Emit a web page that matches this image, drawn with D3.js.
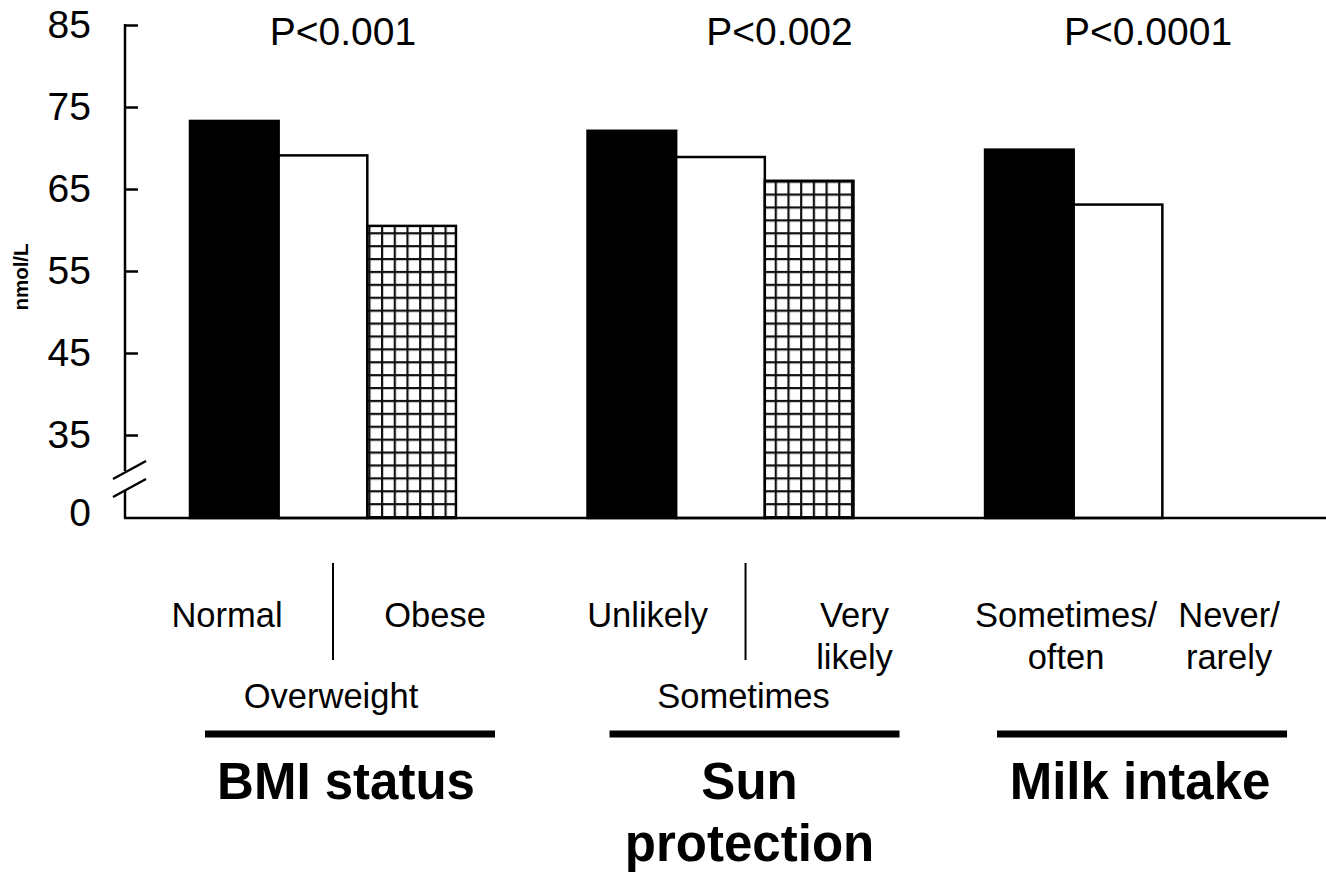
<!DOCTYPE HTML>
<html>
<head>
<meta charset="utf-8">
<title>nmol/L by group</title>
<script src="https://d3js.org/d3.v7.min.js"></script>
<style>
  body { margin: 0; background: #ffffff; }
  text { font-family: "Liberation Sans", Arial, sans-serif; fill: #000000; }
</style>
</head>

<body>
<script>

"use strict";

// data
const groups = ["BMI status", "Sun protection", "Milk intake"];
const groupTitles = [["BMI status"], ["Sun", "protection"], ["Milk intake"]];
const pValues = ["P<0.001", "P<0.002", "P<0.0001"];
const bmiValues = [73.3, 69.1, 60.5];
const sunValues = [72.1, 68.9, 66.0];
const milkValues = [69.8, 63.1];
const bmiLevels = [["Normal"], ["Overweight"], ["Obese"]];
const sunLevels = [["Unlikely"], ["Sometimes"], ["Very", "likely"]];
const milkLevels = [["Sometimes/", "often"], ["Never/", "rarely"]];
const yTicks = [0, 35, 45, 55, 65, 75, 85];
const yLabel = "nmol/L";

const values = [bmiValues, sunValues, milkValues];
const levels = [bmiLevels, sunLevels, milkLevels];

// label layout under each group (offsets from the group's left edge)
const labelLayout = [
  {levelX: [37, 141, 245], levelRow: [0, 2, 0], divider: 143, rule: [15, 305], title: 156, p: 153},
  {levelX: [60, 156, 267], levelRow: [0, 2, 0], divider: 158, rule: [22, 312], title: 162, p: 192},
  {levelX: [81, 244], levelRow: [0, 0], divider: null, rule: [12, 302], title: 155, p: 163}
];
const rowY = [627, 669, 708];

const width = 1326, height = 880;
const axisX = 125, baseY = 518;

const svg = d3.select("body").append("svg")
  .attr("width", width)
  .attr("height", height);

const defs = svg.append("defs");
const grid = defs.append("pattern")
  .attr("id", "grid")
  .attr("patternUnits", "userSpaceOnUse")
  .attr("width", 12.7)
  .attr("height", 12.9);
grid.append("rect").attr("width", 12.7).attr("height", 12.9).attr("fill", "#ffffff");
grid.append("path")
  .attr("d", "M0,1.1H12.7M1.1,0V12.9")
  .attr("stroke", "#111111")
  .attr("stroke-width", 2.2)
  .attr("fill", "none");

const y = d3.scaleLinear()
  .domain([0, 35, 85])
  .range([baseY, 435, 25]);

const xGroup = d3.scaleBand()
  .domain(groups)
  .range([190, 1251])
  .paddingInner(0.331)
  .paddingOuter(0);

const xBar = d3.scaleBand()
  .domain([0, 1, 2])
  .range([0, xGroup.bandwidth()])
  .padding(0);

const fills = ["#000000", "#ffffff", "url(#grid)"];

// bars
groups.forEach((g, gi) => {
  const gx = xGroup(g);
  svg.append("g").selectAll("rect")
    .data(values[gi])
    .enter()
    .append("rect")
    .attr("x", (d, i) => gx + xBar(i))
    .attr("y", (d) => y(d))
    .attr("width", xBar.bandwidth())
    .attr("height", (d) => baseY - y(d))
    .attr("fill", (d, i) => fills[i])
    .attr("stroke", "#000000")
    .attr("stroke-width", 2.5);
});

// y axis
const yAxis = d3.axisLeft(y)
  .tickValues(yTicks)
  .tickSizeInner(-13)
  .tickSizeOuter(0)
  .tickPadding(34)
  .tickFormat(d3.format("d"));

const ax = svg.append("g")
  .attr("transform", "translate(" + axisX + ",0)")
  .call(yAxis);
ax.select(".domain").remove();
ax.selectAll(".tick line")
  .attr("stroke", "#000000")
  .attr("stroke-width", 2.5)
  .filter((d) => d === 0).remove();
ax.selectAll(".tick text")
  .attr("font-size", 39)
  .attr("font-family", "'Liberation Sans', Arial, sans-serif")
  .filter((d) => d === 0).attr("dy", "0.18em");

// axis line with break
svg.append("line")
  .attr("x1", axisX).attr("x2", axisX)
  .attr("y1", y(85) - 1).attr("y2", 471)
  .attr("stroke", "#000000").attr("stroke-width", 2.5);
svg.append("line")
  .attr("x1", axisX).attr("x2", axisX)
  .attr("y1", 491).attr("y2", baseY)
  .attr("stroke", "#000000").attr("stroke-width", 2.5);
svg.append("g").selectAll("line")
  .data([0, 18])
  .enter()
  .append("line")
  .attr("x1", 113).attr("y1", (d) => 479 + d)
  .attr("x2", 146).attr("y2", (d) => 461 + d)
  .attr("stroke", "#000000").attr("stroke-width", 2.5);

// x axis line
svg.append("line")
  .attr("x1", axisX - 1).attr("x2", width)
  .attr("y1", baseY).attr("y2", baseY)
  .attr("stroke", "#000000").attr("stroke-width", 2.5);

// y label
svg.append("text")
  .attr("transform", "translate(28,277) rotate(-90)")
  .attr("text-anchor", "middle")
  .attr("font-size", 20.5)
  .attr("font-weight", "bold")
  .text(yLabel);

// p values
svg.append("g").selectAll("text")
  .data(groups)
  .enter()
  .append("text")
  .attr("x", (d, i) => xGroup(d) + labelLayout[i].p)
  .attr("y", 45)
  .attr("text-anchor", "middle")
  .attr("font-size", 39)
  .text((d, i) => pValues[i]);

// level labels, dividers, rules, titles
groups.forEach((g, gi) => {
  const gx = xGroup(g);
  const lay = labelLayout[gi];
  const lg = svg.append("g");

  levels[gi].forEach((lines, li) => {
    const t = lg.append("text")
      .attr("text-anchor", "middle")
      .attr("font-size", 34.5);
    lines.forEach((line, k) => {
      t.append("tspan")
        .attr("x", gx + lay.levelX[li])
        .attr("y", rowY[lay.levelRow[li] + k])
        .text(line);
    });
  });

  if (lay.divider !== null) {
    lg.append("line")
      .attr("x1", gx + lay.divider).attr("x2", gx + lay.divider)
      .attr("y1", 563).attr("y2", 660)
      .attr("stroke", "#000000").attr("stroke-width", 2);
  }

  lg.append("line")
    .attr("x1", gx + lay.rule[0]).attr("x2", gx + lay.rule[1])
    .attr("y1", 734).attr("y2", 734)
    .attr("stroke", "#000000").attr("stroke-width", 7);

  const tt = lg.append("text")
    .attr("text-anchor", "middle")
    .attr("font-size", 51)
    .attr("font-weight", "bold");
  groupTitles[gi].forEach((line, k) => {
    tt.append("tspan")
      .attr("x", gx + lay.title)
      .attr("y", 799 + k * 62)
      .text(line);
  });
});

</script>
</body>
</html>
